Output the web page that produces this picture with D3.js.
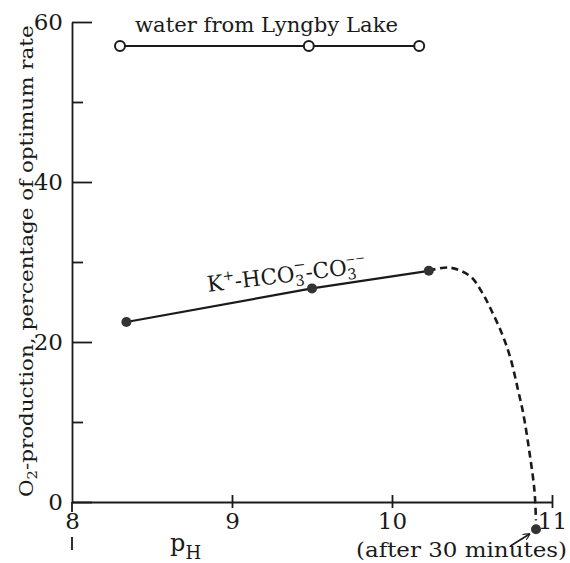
<!DOCTYPE html>
<html><head><meta charset="utf-8">
<script src="https://cdn.jsdelivr.net/npm/d3@7"></script>
<style>body{margin:0;background:#fff}svg{display:block}</style>
</head><body><svg id="c" width="570" height="563"></svg>
<script>
// ---- data ----
const lakePH = [8.30, 9.48, 10.17];
const lakeVal = [57, 57, 57];
const kPH = [8.34, 9.50, 10.23];
const kVal = [22.5, 26.7, 28.9];
const kCurvePH = [10.23, 10.36, 10.49, 10.56, 10.62, 10.69, 10.74, 10.79, 10.82, 10.86, 10.89, 10.90];
const kCurveVal = [28.9, 29.3, 28.2, 26.3, 24.0, 20.9, 18.0, 13.8, 11.1, 6.1, 1.5, -2.3];
const after30PH = [10.90];
const after30Val = [-3.4];
const yTicks = [0, 20, 40, 60];
const yMinorTicks = [10, 30, 50];
const xTicks = [8, 9, 10, 11];
const arrowPH = [10.74, 10.86];
const arrowVal = [-5.5, -4.0];

const FONT = "'DejaVu Serif', serif";
const INK = "#1a1a1a";
const svg = d3.select("#c");
const x = d3.scaleLinear().domain([8, 11]).range([72, 552]);
const y = d3.scaleLinear().domain([0, 60]).range([502, 22]);

// y axis major
const yAx = svg.append("g").attr("transform", `translate(${x(8)},0)`)
  .call(d3.axisLeft(y).tickValues(yTicks).tickSizeInner(-20).tickSizeOuter(0).tickPadding(9).tickFormat(d3.format("d")));
// y minor
const yAx2 = svg.append("g").attr("transform", `translate(${x(8)},0)`)
  .call(d3.axisLeft(y).tickValues(yMinorTicks).tickSizeInner(-11).tickSizeOuter(0).tickFormat(""));
yAx2.select(".domain").remove();
// x axis
const xAx = svg.append("g").attr("transform", `translate(0,${y(0)})`)
  .call(d3.axisBottom(x).tickValues(xTicks).tickSizeInner(6).tickSizeOuter(0).tickFormat(d3.format("d")));
xAx.selectAll(".tick line").attr("y1", -7);
xAx.selectAll(".tick").filter(d => d === 8).select("line").remove();
xAx.selectAll(".tick text").attr("y", 10).attr("dy", "0.74em");

[yAx, yAx2, xAx].forEach(g => {
  g.selectAll("path,line").attr("stroke", INK).attr("stroke-width", 1.8);
  g.selectAll("text").attr("font-family", FONT).attr("font-size", 23).attr("fill", INK);
});
// y axis extension below x axis, broken by the "8" label
svg.append("line").attr("x1", x(8)).attr("x2", x(8)).attr("y1", y(0)).attr("y2", y(0) + 10)
  .attr("stroke", INK).attr("stroke-width", 1.8);
svg.append("line").attr("x1", x(8)).attr("x2", x(8)).attr("y1", y(0) + 35).attr("y2", y(0) + 48)
  .attr("stroke", INK).attr("stroke-width", 1.8);

// lake series
const lake = lakePH.map((p, i) => ({p, v: lakeVal[i]}));
const line = d3.line().x(d => x(d.p)).y(d => y(d.v));
svg.append("path").datum(lake).attr("d", line).attr("fill", "none").attr("stroke", INK).attr("stroke-width", 2);
svg.selectAll(".lk").data(lake).enter().append("circle").attr("class", "lk")
  .attr("cx", d => x(d.p)).attr("cy", d => y(d.v)).attr("r", 5)
  .attr("fill", "#fff").attr("stroke", INK).attr("stroke-width", 2);

// K series
const kd = kPH.map((p, i) => ({p, v: kVal[i]}));
svg.append("path").datum(kd).attr("d", line).attr("fill", "none").attr("stroke", INK).attr("stroke-width", 2.2);
const kc = kCurvePH.map((p, i) => ({p, v: kCurveVal[i]}));
svg.append("path").datum(kc).attr("d", d3.line().x(d => x(d.p)).y(d => y(d.v)).curve(d3.curveCatmullRom.alpha(0.5)))
  .attr("fill", "none").attr("stroke", INK).attr("stroke-width", 2.6).attr("stroke-dasharray", "7,4.5");
svg.selectAll(".kd").data(kd.concat(after30PH.map((p, i) => ({p, v: after30Val[i]})))).enter()
  .append("circle").attr("class", "kd")
  .attr("cx", d => x(d.p)).attr("cy", d => y(d.v)).attr("r", 5).attr("fill", "#333");

// arrow
svg.append("defs").append("marker").attr("id", "ah").attr("viewBox", "0 0 10 10")
  .attr("refX", 9).attr("refY", 5).attr("markerWidth", 7).attr("markerHeight", 7)
  .attr("orient", "auto").attr("markerUnits", "userSpaceOnUse")
  .append("path").attr("d", "M0,0 L10,5 L0,10").attr("fill", "none").attr("stroke", INK).attr("stroke-width", 1.6);
svg.append("line").attr("x1", x(arrowPH[0])).attr("y1", y(arrowVal[0])).attr("x2", x(arrowPH[1])).attr("y2", y(arrowVal[1]))
  .attr("stroke", INK).attr("stroke-width", 1.6).attr("marker-end", "url(#ah)");

// texts
svg.append("text").attr("x", 135).attr("y", 32).attr("font-family", FONT).attr("font-size", 21)
  .attr("fill", INK).attr("textLength", 263).attr("lengthAdjust", "spacingAndGlyphs").text("water from Lyngby Lake");

svg.append("text").attr("x", 356).attr("y", 557).attr("font-family", FONT).attr("font-size", 20)
  .attr("fill", INK).attr("textLength", 211).attr("lengthAdjust", "spacingAndGlyphs").text("(after 30 minutes)");

// pH label
const ph = svg.append("text").attr("x", 170).attr("y", 551).attr("font-family", FONT).attr("fill", INK);
ph.append("tspan").attr("font-size", 24).text("p");
ph.append("tspan").attr("font-size", 18).attr("dy", 8).text("H");

// y title (scaled to span the reference length)
const yt = svg.append("text").attr("font-family", FONT).attr("font-size", 19).attr("fill", INK);
yt.append("tspan").text("O");
yt.append("tspan").attr("font-size", 13).attr("dy", 4).text("2");
yt.append("tspan").attr("dy", -4).text("-production, percentage of optimum rate");
const ytL = yt.node().getBBox().width;
yt.attr("transform", `translate(33,497) rotate(-90) scale(${472 / ytL},1)`);

// K label
const kl = svg.append("text").attr("font-family", FONT).attr("font-size", 22).attr("fill", INK);
kl.append("tspan").text("K");
kl.append("tspan").attr("font-size", 14).attr("dy", -9).text("+");
kl.append("tspan").attr("dy", 9).text("-HCO");
kl.append("tspan").attr("font-size", 15).attr("dy", 5).text("3");
kl.append("tspan").attr("font-size", 15).attr("dx", -10).attr("dy", -16).text("\u2212");
kl.append("tspan").attr("dx", -1).attr("dy", 11).text("-CO");
kl.append("tspan").attr("font-size", 15).attr("dy", 5).text("3");
kl.append("tspan").attr("font-size", 12).attr("dx", -10).attr("dy", -16).text("\u2212\u2212");
const klL = kl.node().getBBox().width;
kl.attr("transform", `translate(208,292) rotate(-7) scale(${160 / klL},1)`);
</script></body></html>
